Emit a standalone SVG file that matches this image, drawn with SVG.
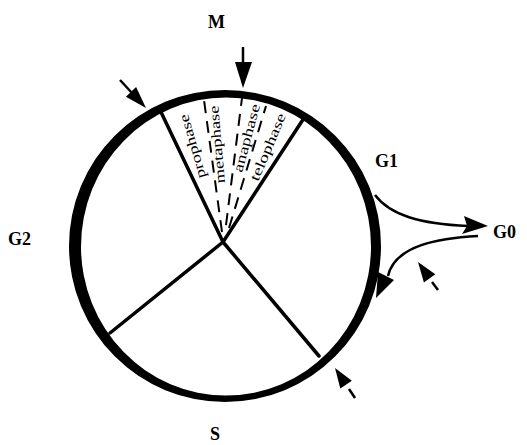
<svg xmlns="http://www.w3.org/2000/svg" width="527" height="445" viewBox="0 0 527 445">
<style>
.lbl{font-family:"Liberation Serif",serif;font-weight:bold;font-size:18px;fill:#000}
.ph{font-family:"Liberation Serif",serif;font-size:14px;fill:#000}
.sp{stroke:#000;stroke-width:3.5;fill:none;stroke-linecap:round}
.ds{stroke:#000;stroke-width:2;fill:none;stroke-dasharray:12 8}
.ln{stroke:#000;stroke-width:2.5;fill:none}
.hd{fill:#000;stroke:none}
</style>
<rect width="527" height="445" fill="#fff"/>
<g id="cycle">
<path d="M69,246 a156,156 0 1,0 312,0 a156,156 0 1,0 -312,0 Z M81,246.5 a145,149 0 1,0 290,0 a145,149 0 1,0 -290,0 Z" fill="#000" fill-rule="evenodd"/>
</g>
<g id="spokes">
<line class="sp" x1="223" y1="242" x2="160" y2="110"/>
<line class="sp" x1="223" y1="242" x2="304" y2="118"/>
<line class="sp" x1="223" y1="242" x2="110" y2="333"/>
<line class="sp" x1="223" y1="242" x2="319" y2="356"/>
</g>
<g id="m-phase">
<line class="ds" x1="222" y1="232" x2="204" y2="100"/>
<line class="ds" x1="226" y1="225" x2="242" y2="98"/>
<line class="ds" x1="229" y1="228" x2="266" y2="106"/>
<text class="ph" transform="translate(206,177) rotate(-106)" textLength="66" lengthAdjust="spacingAndGlyphs">prophase</text>
<text class="ph" transform="translate(225,183) rotate(-95)" textLength="78" lengthAdjust="spacingAndGlyphs">metaphase</text>
<text class="ph" transform="translate(242,173) rotate(-75)" textLength="70" lengthAdjust="spacingAndGlyphs">anaphase</text>
<text class="ph" transform="translate(258,182) rotate(-67)" textLength="72" lengthAdjust="spacingAndGlyphs">telophase</text>
</g>
<g id="connectors">
<path class="ln" d="M375,195 C390,215 420,224 468,226"/>
<polygon class="hd" points="464,216 488,226 462,234 467,226"/>
<path class="ln" d="M478,236 C440,238 395,245 388,276"/>
<polygon class="hd" points="378,272 394,280 376,298"/>
</g>
<g id="checkpoints">
<line class="ln" x1="243" y1="47" x2="243" y2="63"/>
<polygon class="hd" points="235,62 252,62 243,88"/>
<line class="ln" x1="120" y1="80" x2="132" y2="93"/>
<polygon class="hd" points="125.9,96.7 136.1,87.1 146,108"/>
<line class="ln" x1="432" y1="282" x2="438" y2="290"/>
<polygon class="hd" points="435.3,274.2 423.9,282.4 418,262"/>
<line class="ln" x1="349" y1="389" x2="355" y2="398"/>
<polygon class="hd" points="351.9,380.7 340.3,388.5 335,368"/>
</g>
<g id="labels">
<text class="lbl" x="208" y="28">M</text>
<text class="lbl" x="375" y="167">G1</text>
<text class="lbl" x="493" y="238">G0</text>
<text class="lbl" x="8" y="245">G2</text>
<text class="lbl" x="210" y="440">S</text>
</g>
</svg>
